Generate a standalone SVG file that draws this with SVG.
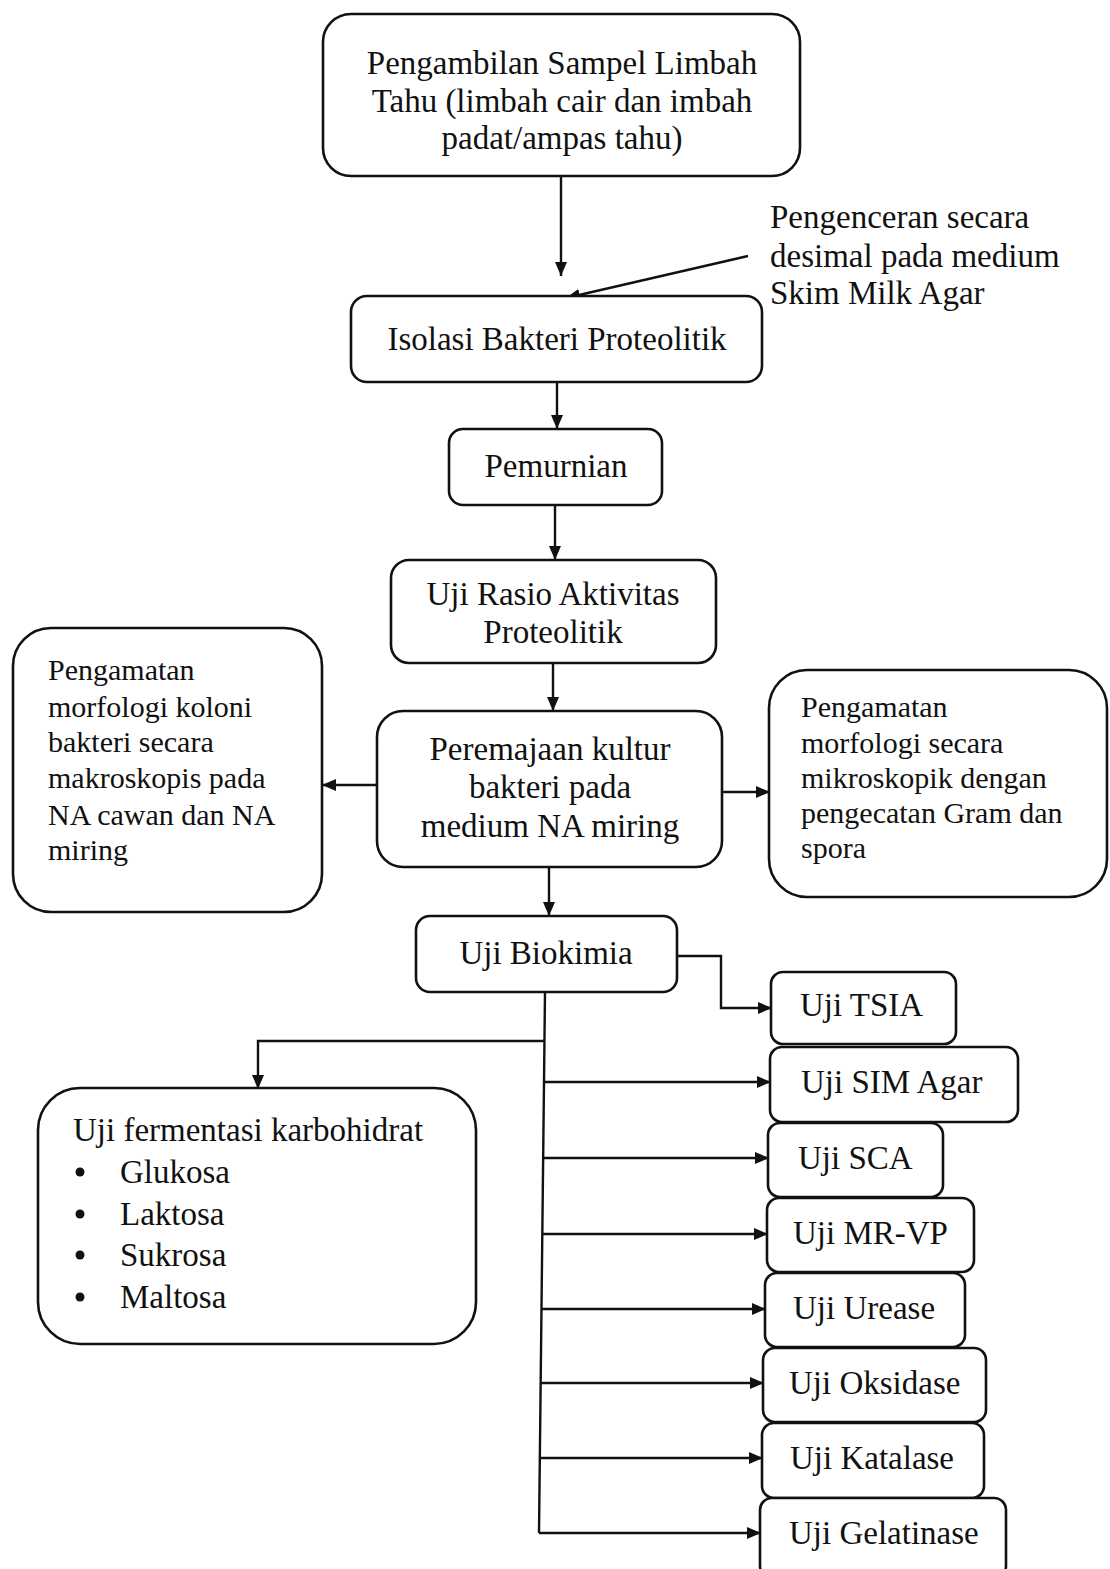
<svg xmlns="http://www.w3.org/2000/svg" width="1110" height="1569" viewBox="0 0 1110 1569">
<defs>
<marker id="ah" viewBox="0 0 14 12" refX="14" refY="6" markerWidth="14" markerHeight="12" markerUnits="userSpaceOnUse" orient="auto">
<path d="M0,0 L14,6 L0,12 Z" fill="#111"/>
</marker>
</defs>
<style>
.b{fill:#fff;stroke:#111;stroke-width:2.6}
text{font-family:"Liberation Serif","Times New Roman",serif;fill:#111;font-size:33px}
.c{text-anchor:middle}
.s{font-size:30px}
#connectors path,#connectors line{fill:none;stroke:#111;stroke-width:2.4;marker-end:url(#ah)}
#connectors .nm{marker-end:none}
</style>
<rect width="1110" height="1569" fill="#fff"/>
<g id="connectors">
<line x1="561" y1="176" x2="561" y2="276"/>
<line x1="748" y1="256" x2="566" y2="298"/>
<line x1="557" y1="382" x2="557" y2="429"/>
<line x1="555" y1="505" x2="555" y2="560"/>
<line x1="553" y1="663" x2="553" y2="711"/>
<line x1="376" y1="785" x2="322" y2="785"/>
<line x1="723" y1="792" x2="770" y2="792"/>
<line x1="549" y1="867" x2="549" y2="916"/>
<path d="M677,956 H721 V1008 H772"/>
<line class="nm" x1="545" y1="992" x2="539" y2="1533"/>
<path d="M544,1041 H258 V1089"/>
<line x1="544" y1="1082" x2="771" y2="1082"/>
<line x1="543" y1="1158" x2="769" y2="1158"/>
<line x1="543" y1="1234" x2="768" y2="1234"/>
<line x1="542" y1="1309" x2="766" y2="1309"/>
<line x1="541" y1="1383" x2="764" y2="1383"/>
<line x1="540" y1="1458" x2="763" y2="1458"/>
<line x1="539" y1="1533" x2="761" y2="1533"/>
</g>
<g id="n1">
<rect class="b" x="323" y="14" width="477" height="162" rx="28"/>
<text class="c" x="562" y="74">Pengambilan Sampel Limbah</text>
<text class="c" x="562" y="112">Tahu (limbah cair dan imbah</text>
<text class="c" x="562" y="149">padat/ampas tahu)</text>
</g>
<g id="note">
<text x="770" y="228">Pengenceran secara</text>
<text x="770" y="267">desimal pada medium</text>
<text x="770" y="304">Skim Milk Agar</text>
</g>
<g id="n2">
<rect class="b" x="351" y="296" width="411" height="86" rx="16"/>
<text class="c" x="557" y="350">Isolasi Bakteri Proteolitik</text>
</g>
<g id="n3">
<rect class="b" x="449" y="429" width="213" height="76" rx="14"/>
<text class="c" x="556" y="477">Pemurnian</text>
</g>
<g id="n4">
<rect class="b" x="391" y="560" width="325" height="103" rx="18"/>
<text class="c" x="553" y="605">Uji Rasio Aktivitas</text>
<text class="c" x="553" y="643">Proteolitik</text>
</g>
<g id="n5">
<rect class="b" x="377" y="711" width="345" height="156" rx="26"/>
<text class="c" x="550" y="760">Peremajaan kultur</text>
<text class="c" x="550" y="798">bakteri pada</text>
<text class="c" x="550" y="837">medium NA miring</text>
</g>
<g id="n6">
<rect class="b" x="13" y="628" width="309" height="284" rx="38"/>
<text class="s" x="48" y="680">Pengamatan</text>
<text class="s" x="48" y="717">morfologi koloni</text>
<text class="s" x="48" y="752">bakteri secara</text>
<text class="s" x="48" y="788">makroskopis pada</text>
<text class="s" x="48" y="825">NA cawan dan NA</text>
<text class="s" x="48" y="860">miring</text>
</g>
<g id="n7">
<rect class="b" x="769" y="670" width="338" height="227" rx="38"/>
<text class="s" x="801" y="717">Pengamatan</text>
<text class="s" x="801" y="753">morfologi secara</text>
<text class="s" x="801" y="788">mikroskopik dengan</text>
<text class="s" x="801" y="823">pengecatan Gram dan</text>
<text class="s" x="801" y="858">spora</text>
</g>
<g id="n8">
<rect class="b" x="416" y="916" width="261" height="76" rx="14"/>
<text class="c" x="546" y="964">Uji Biokimia</text>
</g>
<g id="n9">
<rect class="b" x="38" y="1088" width="438" height="256" rx="42"/>
<text x="73" y="1141">Uji fermentasi karbohidrat</text>
<circle cx="80" cy="1172" r="4.5" fill="#111"/>
<text x="120" y="1183">Glukosa</text>
<circle cx="80" cy="1214" r="4.5" fill="#111"/>
<text x="120" y="1225">Laktosa</text>
<circle cx="80" cy="1255" r="4.5" fill="#111"/>
<text x="120" y="1266">Sukrosa</text>
<circle cx="80" cy="1297" r="4.5" fill="#111"/>
<text x="120" y="1308">Maltosa</text>
</g>
<g id="t1"><rect class="b" x="771" y="972" width="185" height="72" rx="12"/><text x="800" y="1016">Uji TSIA</text></g>
<g id="t2"><rect class="b" x="770" y="1047" width="248" height="75" rx="12"/><text x="801" y="1093">Uji SIM Agar</text></g>
<g id="t3"><rect class="b" x="768" y="1123" width="175" height="74" rx="12"/><text x="798" y="1169">Uji SCA</text></g>
<g id="t4"><rect class="b" x="767" y="1198" width="207" height="74" rx="12"/><text x="793" y="1244">Uji MR-VP</text></g>
<g id="t5"><rect class="b" x="765" y="1273" width="200" height="74" rx="12"/><text x="793" y="1319">Uji Urease</text></g>
<g id="t6"><rect class="b" x="763" y="1348" width="223" height="74" rx="12"/><text x="789" y="1394">Uji Oksidase</text></g>
<g id="t7"><rect class="b" x="762" y="1423" width="222" height="75" rx="12"/><text x="790" y="1469">Uji Katalase</text></g>
<g id="t8"><rect class="b" x="760" y="1498" width="246" height="80" rx="12"/><text x="789" y="1544">Uji Gelatinase</text></g>
</svg>
